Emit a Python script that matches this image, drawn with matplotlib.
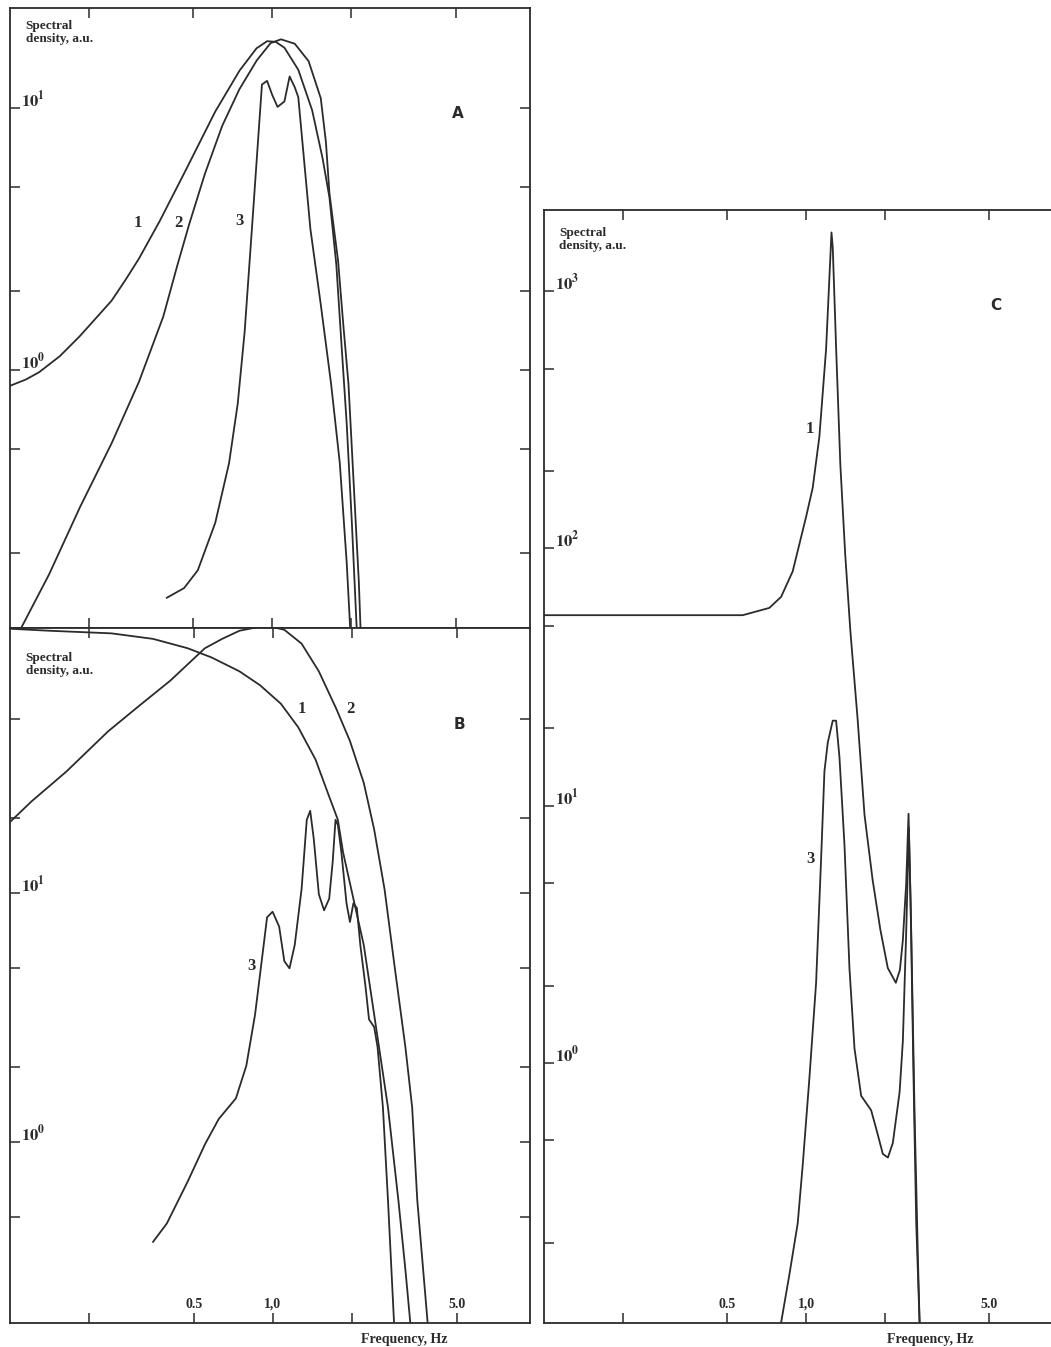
import matplotlib.pyplot as plt
from matplotlib.ticker import NullLocator

plt.rcParams['font.family'] = ['Liberation Serif', 'DejaVu Serif']
plt.rcParams['mathtext.fontset'] = 'stix'

# ---------------- panel A ----------------
a1_x = [0.10, 0.115, 0.129, 0.155, 0.185, 0.213, 0.244, 0.275, 0.31, 0.372, 0.468, 0.606,
        0.75, 0.87, 0.955, 1.03, 1.112, 1.256, 1.418, 1.553, 1.651, 1.754, 1.835, 1.921,
        2.01, 2.10]
a1_y = [0.87, 0.92, 0.98, 1.13, 1.35, 1.58, 1.84, 2.2, 2.66, 3.7, 5.8, 9.7,
        13.9, 16.9, 18.0, 17.9, 17.0, 14.0, 9.82, 6.46, 4.56, 2.52, 1.254, 0.624,
        0.261, 0.10]

a2_x = [0.11, 0.141, 0.185, 0.244, 0.31, 0.384, 0.434, 0.482, 0.553, 0.644, 0.749, 0.872,
        0.985, 1.079, 1.218, 1.375, 1.53, 1.601, 1.651, 1.781, 1.864, 1.951, 2.042, 2.137, 2.169]
a2_y = [0.103, 0.166, 0.30, 0.525, 0.90, 1.6, 2.5, 3.6, 5.6, 8.55, 11.8, 15.2,
        17.7, 18.3, 17.6, 15.1, 10.9, 7.4, 4.72, 2.61, 1.494, 0.885, 0.370, 0.155, 0.103]

a3_x = [0.396, 0.461, 0.520, 0.606, 0.684, 0.738, 0.784, 0.846, 0.886, 0.913, 0.955, 1.0,
        1.047, 1.112, 1.164, 1.218, 1.256, 1.397, 1.53, 1.675, 1.808, 1.921, 1.981]
a3_y = [0.135, 0.147, 0.172, 0.261, 0.441, 0.743, 1.393, 4.1, 8.0, 12.3, 12.7, 11.2,
        10.1, 10.6, 13.2, 12.0, 11.0, 3.45, 1.778, 0.885, 0.441, 0.184, 0.103]

# ---------------- panel B ----------------
b1_x = [0.10, 0.141, 0.243, 0.350, 0.474, 0.585, 0.746, 0.894, 1.072, 1.247, 1.452, 1.637,
        1.766, 1.848, 2.023, 2.216, 2.427, 2.578, 2.739, 3.0, 3.19, 3.334]
b1_y = [115.2, 113.1, 110.4, 104.9, 96.2, 88.3, 77.7, 68.3, 57.6, 46.4, 34.4, 24.4,
        19.7, 14.6, 9.5, 6.18, 3.25, 2.12, 1.38, 0.585, 0.308, 0.186]

b2_x = [0.10, 0.121, 0.164, 0.236, 0.301, 0.407, 0.551, 0.641, 0.746, 0.867, 1.009, 1.105,
        1.285, 1.495, 1.74, 1.963, 2.216, 2.427, 2.658, 2.909, 3.19, 3.385, 3.54, 3.88]
b2_y = [19.3, 23.4, 30.8, 44.6, 55.1, 71.3, 96.2, 104.9, 113.1, 116.7, 116.7, 114.1,
        100.4, 77.7, 55.1, 40.8, 27.7, 18.0, 10.36, 4.99, 2.41, 1.38, 0.585, 0.186]

b3_x = [0.350, 0.395, 0.474, 0.551, 0.622, 0.723, 0.792, 0.855, 0.922, 0.95, 0.997, 1.056,
        1.105, 1.156, 1.21, 1.285, 1.345, 1.386, 1.43, 1.495, 1.565, 1.637, 1.688, 1.73,
        1.766, 1.821, 1.905, 1.963, 2.023, 2.085, 2.15, 2.25, 2.32, 2.427, 2.50, 2.62,
        2.739, 2.89]
b3_y = [0.398, 0.472, 0.695, 0.979, 1.239, 1.50, 2.026, 3.25, 6.18, 8.0, 8.42, 7.34,
        5.33, 4.99, 6.18, 10.36, 19.7, 21.4, 16.5, 9.9, 8.53, 9.5, 13.4, 19.7,
        18.8, 14.6, 9.1, 7.66, 9.1, 8.72, 6.18, 4.21, 3.11, 2.90, 2.41, 1.38,
        0.585, 0.186]

# ---------------- panel C ----------------
c1_x = [0.10, 0.573, 0.724, 0.803, 0.889, 1.0, 1.06, 1.124, 1.192, 1.228, 1.25, 1.264,
        1.302, 1.351, 1.41, 1.476, 1.571, 1.671, 1.794, 1.92, 2.05, 2.20, 2.28, 2.34,
        2.41, 2.46, 2.505, 2.57, 2.632, 2.711]
c1_y = [55, 55, 58.7, 64.8, 81.4, 132.6, 172, 272, 594, 1140, 1690, 1479,
        600, 212, 95, 47.5, 22.0, 9.2, 5.15, 3.3, 2.34, 2.05, 2.3, 3.0,
        5.0, 9.3, 4.2, 0.878, 0.238, 0.098]

c3_x = [0.803, 0.864, 0.929, 0.971, 1.03, 1.092, 1.141, 1.175, 1.21, 1.264, 1.302, 1.341,
        1.401, 1.464, 1.53, 1.622, 1.771, 1.851, 1.963, 2.052, 2.143, 2.274, 2.34, 2.41,
        2.467, 2.519, 2.594, 2.672, 2.711]
c3_y = [0.098, 0.151, 0.238, 0.402, 0.878, 2.05, 6.2, 13.6, 17.6, 21.4, 21.4, 15.4,
        7.06, 2.33, 1.139, 0.746, 0.655, 0.556, 0.443, 0.429, 0.489, 0.77, 1.216, 3.23,
        8.2, 3.23, 0.634, 0.172, 0.098]

x_ticks = [0.2, 0.5, 1.0, 2.0, 5.0]
x_lab_vals = [0.5, 1.0, 5.0]
x_lab_text = ['0.5', '1,0', '5.0']

a_yticks = [0.2, 0.5, 1, 2, 5, 10]
b_yticks = [0.5, 1, 2, 5, 10, 20, 50]
c_yticks = [0.2, 0.5, 1, 2, 5, 10, 20, 50, 100, 200, 500, 1000]

ink = '#2b2b2b'
W, H = 1051, 1347


def box(l, t, r, b):
    return [l / W, 1 - b / H, (r - l) / W, (b - t) / H]


fig = plt.figure(figsize=(W / 100, H / 100), dpi=100)
axA = fig.add_axes(box(10, 8, 530, 628))
axB = fig.add_axes(box(10, 628, 530, 1323))
axC = fig.add_axes(box(544, 210, 1051, 1323))


def setup(ax, xlim, ylim, yticks, decades, right=True):
    ax.set_xscale('log')
    ax.set_yscale('log')
    ax.set_xlim(*xlim)
    ax.set_ylim(*ylim)
    ax.set_xticks(x_ticks)
    ax.set_yticks(yticks)
    ax.xaxis.set_minor_locator(NullLocator())
    ax.yaxis.set_minor_locator(NullLocator())
    ax.tick_params(which='both', direction='in', length=7, width=1.1, color=ink,
                   top=True, right=right, labelbottom=False, labelleft=False)
    for s in ax.spines.values():
        s.set_linewidth(1.3)
        s.set_color(ink)
    ax.spines['right'].set_visible(right)
    for d in decades:
        ax.annotate(r'$\mathbf{10^{%d}}$' % d, xy=(0, 10.0 ** d),
                    xycoords=('axes fraction', 'data'), xytext=(8, 1),
                    textcoords='offset points', ha='left', va='baseline',
                    fontsize=12, color=ink)


def spectral(ax, yfrac):
    ax.text(0.03, yfrac, 'Spectral\ndensity, a.u.', transform=ax.transAxes,
            ha='left', va='top', fontsize=9.5, fontweight='bold', color=ink,
            linespacing=1.1)


def freq_axis(ax, xc):
    for v, s in zip(x_lab_vals, x_lab_text):
        ax.annotate(s, xy=(v, 0), xycoords=('data', 'axes fraction'),
                    xytext=(0, 9), textcoords='offset points', ha='center',
                    va='bottom', fontsize=10, fontweight='bold', color=ink)
    ax.annotate('Frequency, Hz', xy=(xc, 0), xycoords=('data', 'axes fraction'),
                xytext=(0, -12), textcoords='offset points', ha='center',
                va='center', fontsize=10, fontweight='bold', color=ink,
                annotation_clip=False)


def tag(ax, x, y, s, size=12, family=None):
    ax.text(x, y, s, ha='center', va='center', fontsize=size, fontweight='bold',
            color=ink, family=family)


# panel A
setup(axA, (0.1, 9.6), (0.1035, 24.1), a_yticks, [1, 0])
for xs, ys in [(a1_x, a1_y), (a2_x, a2_y), (a3_x, a3_y)]:
    axA.plot(xs, ys, color=ink, lw=1.3)
spectral(axA, 0.98)
tag(axA, 0.306, 3.64, '1')
tag(axA, 0.44, 3.64, '2')
tag(axA, 0.75, 3.7, '3')
tag(axA, 5.1, 9.5, 'A', 11, 'DejaVu Sans')

# panel B
setup(axB, (0.1, 9.5), (0.188, 116), b_yticks, [1, 0])
for xs, ys in [(b1_x, b1_y), (b2_x, b2_y), (b3_x, b3_y)]:
    axB.plot(xs, ys, color=ink, lw=1.3)
spectral(axB, 0.965)
freq_axis(axB, 3.16)
tag(axB, 1.285, 55.1, '1')
tag(axB, 1.975, 55.1, '2')
tag(axB, 0.829, 5.1, '3')
tag(axB, 5.1, 47.5, 'B', 11, 'DejaVu Sans')

# panel C (right border is cut off in the original)
setup(axC, (0.1, 8.6), (0.0976, 2066), c_yticks, [3, 2, 1, 0], right=False)
for xs, ys in [(c1_x, c1_y), (c3_x, c3_y)]:
    axC.plot(xs, ys, color=ink, lw=1.3)
spectral(axC, 0.985)
freq_axis(axC, 2.98)
tag(axC, 1.03, 290, '1')
tag(axC, 1.04, 6.2, '3')
tag(axC, 5.3, 880, 'C', 11, 'DejaVu Sans')

fig.savefig('out.png', dpi=100)
